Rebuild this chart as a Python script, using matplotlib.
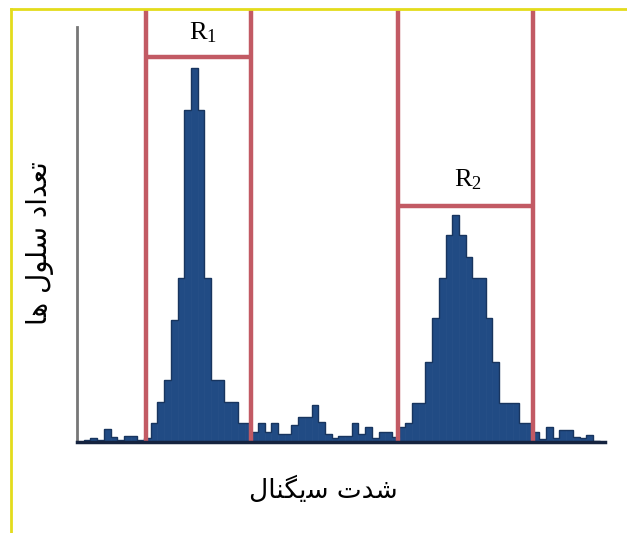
import numpy as np
import matplotlib.pyplot as plt
from matplotlib.lines import Line2D

# histogram counts, one value per channel (bin width = 1)
counts = [0, 2, 4, 2, 13, 5, 2, 6, 6, 2,
          4, 19, 40, 62, 122, 164, 332, 374, 332, 164,
          62, 62, 40, 40, 19, 19, 10, 19, 10, 19,
          8, 8, 17, 25, 25, 37, 20, 8, 4, 6,
          6, 19, 8, 15, 4, 10, 10, 5, 15, 19,
          39, 39, 80, 124, 164, 207, 227, 207, 185, 164,
          164, 124, 80, 39, 39, 39, 19, 19, 10, 3,
          15, 4, 12, 12, 5, 4, 7, 1, 0]
channels = np.arange(len(counts))

# gates: left edge, right edge, level of the bar carrying the label
gate_names = ['$\\mathregular{R_1}$', '$\\mathregular{R_2}$']
gate_left = [10.3, 47.9]
gate_right = [26.0, 68.06]
gate_level = [385, 236]

# persian labels written in presentation forms (visual order) so they join
xlabel_fa = '\uFEDD\uFE8E\uFEE8\uFB95\uFBFE\uFEB3 \uFE95\uFEAA\uFEB7'
ylabel_fa = '\uFE8E\uFEEB \uFEDD\uFEEE\uFEE0\uFEB3 \uFEA9\uFE8D\uFEAA\uFECC\uFE97'

W, H = 627, 533
fig = plt.figure(figsize=(W / 100, H / 100), dpi=100)
ax = fig.add_axes([77 / W, 91 / H, 528 / W, 432 / H])

bar_col = '#214b84'
ax.bar(channels, counts, width=1.0, align='edge', color=bar_col,
       edgecolor=bar_col, linewidth=0.5, zorder=2)
# darker outline of the histogram
ax.stairs(counts, np.arange(len(counts) + 1), color='#18355f', lw=1.0, zorder=2.5)

top = 432
for l, r, lev in zip(gate_left, gate_right, gate_level):
    ax.vlines([l, r], 0, top, color='#c25a64', lw=3.2, zorder=3, clip_on=False)
    ax.hlines(lev, l, r, color='#c25a64', lw=3.2, zorder=3)

ax.text(18.8, 409, gate_names[0], ha='center', va='center', fontsize=19,
        family='Liberation Serif')
ax.text(58.4, 262, gate_names[1], ha='center', va='center', fontsize=19,
        family='Liberation Serif')

ax.set_xlim(0, 78.8)
ax.set_ylim(0, top)
for s in ['top', 'right']:
    ax.spines[s].set_visible(False)
ax.spines['left'].set_bounds(0, 415)
ax.spines['left'].set_color('#777777')
ax.spines['left'].set_linewidth(2)
ax.spines['bottom'].set_color('#15233f')
ax.spines['bottom'].set_linewidth(2.5)
ax.spines['bottom'].set_zorder(4)
ax.set_xticks([])
ax.set_yticks([])

fig.text(323 / W, 1 - 490 / H, xlabel_fa, ha='center', va='center',
         fontsize=19, family='DejaVu Sans')
fig.text(40 / W, 1 - 243 / H, ylabel_fa, ha='center', va='center',
         rotation=90, fontsize=20, family='DejaVu Sans')

# yellow frame on the left and top
fig.add_artist(Line2D([11 / W, 11 / W], [0, 1 - 9 / H], color='#e3dc1c', lw=2))
fig.add_artist(Line2D([11 / W, 1], [1 - 9 / H, 1 - 9 / H], color='#e3dc1c', lw=2))

fig.savefig('out.png', dpi=100)
